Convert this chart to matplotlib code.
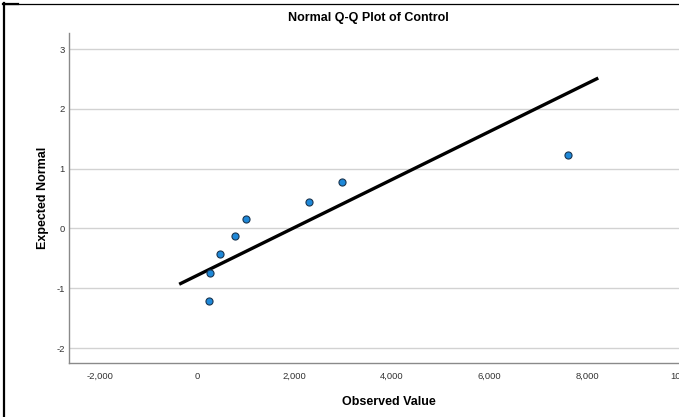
import numpy as np
import matplotlib
matplotlib.use("Agg")
import matplotlib.pyplot as plt
from matplotlib.lines import Line2D
from matplotlib.ticker import FuncFormatter

plt.rcParams["font.family"] = ["Liberation Sans", "DejaVu Sans"]
plt.rcParams["axes.unicode_minus"] = False

# Observed values of the Control group and their expected normal scores
observed = [246, 273, 466, 779, 1011, 2291, 2981, 7617]
expected = [-1.21, -0.75, -0.42, -0.12, 0.16, 0.45, 0.78, 1.23]

x_ticks = [-2000, 0, 2000, 4000, 6000, 8000, 10000]
y_ticks = [-2, -1, 0, 1, 2, 3]

W, H = 679, 417
fig = plt.figure(figsize=(W / 100, H / 100), dpi=100)
ax = fig.add_axes([69 / W, 1 - 363 / H, 640 / W, (363 - 33) / H])

# reference line from the fitted normal (mean, sd of the sample)
obs = np.array(observed)
mu, sd = obs.mean(), obs.std(ddof=1)
span = obs.max() - obs.min()
lx = np.array([obs.min() - 0.083 * span, obs.max() + 0.083 * span])
ax.plot(lx, (lx - mu) / sd, color="black", lw=2.4, zorder=3, solid_capstyle="butt")

ax.scatter(observed, expected, s=26, color="#1e88d8", edgecolor="#1a3550",
           linewidth=0.8, zorder=4)

ax.set_xlim(-2626, 10500)
ax.set_ylim(-2.25, 3.27)
ax.set_xticks(x_ticks)
ax.set_yticks(y_ticks)
ax.xaxis.set_major_formatter(FuncFormatter(lambda v, p: f"{int(v):,}"))
ax.tick_params(length=0, labelsize=6.8, colors="#333333")
ax.tick_params(axis="x", pad=6.4)
ax.tick_params(axis="y", pad=2.9)
ax.grid(axis="y", color="#d2d2d2", lw=1)
ax.set_axisbelow(True)
for s in ["top", "right"]:
    ax.spines[s].set_visible(False)
for s in ["left", "bottom"]:
    ax.spines[s].set_color("#8a8a8a")
    ax.spines[s].set_linewidth(1)

ax.set_xlabel("Observed Value", fontsize=9, fontweight="bold", labelpad=11)
ax.set_ylabel("Expected Normal", fontsize=9, fontweight="bold", labelpad=5.5)
fig.text(368 / W, 1 - 18 / H, "Normal Q-Q Plot of Control",
         ha="center", va="center", fontsize=9, fontweight="bold")

# black frame: thin top rule, thick left edge and corner
fig.add_artist(Line2D([3 / W, 1], [1 - 3.5 / H, 1 - 3.5 / H], color="black", lw=0.9))
fig.add_artist(Line2D([4.2 / W, 4.2 / W], [0, 1 - 3 / H], color="black", lw=1.6))
fig.add_artist(Line2D([3 / W, 18 / W], [1 - 4 / H, 1 - 4 / H], color="black", lw=1.6))

fig.savefig("out.png", dpi=100)
